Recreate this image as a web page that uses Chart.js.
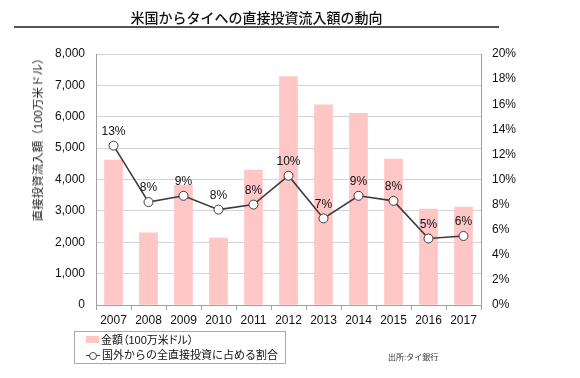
<!DOCTYPE html>
<html>
<head>
<meta charset="utf-8">
<script src="https://cdn.jsdelivr.net/npm/chart.js@4"></script>
<style>
  body { margin: 0; background: #fff; font-family: "Liberation Sans", "Noto Sans CJK JP", sans-serif; }
  #wrap { position: relative; width: 580px; height: 378px; }
  #title { position: absolute; left: 14px; width: 485px; top: 7px; text-align: center; font-size: 14px; font-weight: 500; color: #111; }
  #rule { position: absolute; left: 14px; width: 485px; top: 26px; height: 2px; background: #555; }
  #ytitle { position: absolute; left: 37px; top: 137px; width: 0; height: 0; }
  #ytitle span { position: absolute; transform: translate(-50%, -50%) rotate(-90deg); white-space: nowrap; font-size: 11.5px; color: #222; }
  #legend { position: absolute; left: 74px; top: 331px; width: 210px; height: 31px; border: 1px solid #a8a8a8; font-size: 11px; color: #111; }
  .row { position: absolute; left: 11px; height: 15px; line-height: 15px; white-space: nowrap; }
  .sw { display: inline-block; width: 13px; height: 7px; background: #ffc6c6; vertical-align: 1px; margin-right: 2px; }
  .ln { display: inline-block; position: relative; width: 14px; height: 15px; vertical-align: top; margin-right: 2px; }
  .ln i { position: absolute; left: 0; top: 7px; width: 14px; height: 1px; background: #444; }
  .ln b { position: absolute; left: 3px; top: 4px; width: 6px; height: 6px; border: 1px solid #444; border-radius: 50%; background: #fff; }
  #source { position: absolute; left: 388px; top: 351px; font-size: 8px; color: #333; }
  canvas { position: absolute; left: 0; top: 0; }
</style>
</head>
<body>
<div id="wrap">
  <canvas id="chart" width="580" height="378"></canvas>
  <div id="title">米国からタイへの直接投資流入額の動向</div>
  <div id="rule"></div>
  <div id="ytitle"><span>直接投資流入額（100万米ドル）</span></div>
  <div id="legend">
    <div class="row" style="top:1px; font-feature-settings: 'palt';"><span class="sw"></span>金額（100万米ドル）</div>
    <div class="row" style="top:16px"><span class="ln"><i></i><b></b></span>国外からの全直接投資に占める割合</div>
  </div>
  <div id="source">出所:タイ銀行</div>
</div>
<script>
// 年
const years = ["2007", "2008", "2009", "2010", "2011", "2012", "2013", "2014", "2015", "2016", "2017"];
// 金額（100万米ドル）
const amounts = [4620, 2300, 3820, 2130, 4300, 7280, 6380, 6110, 4650, 3060, 3120];
// 国外からの全直接投資に占める割合（%）
const shares = [12.7, 8.2, 8.7, 7.6, 8.0, 10.3, 6.9, 8.7, 8.3, 5.3, 5.5];
const shareLabels = ["13%", "8%", "9%", "8%", "8%", "10%", "7%", "9%", "8%", "5%", "6%"];

const FONT = "'Liberation Sans', 'Noto Sans CJK JP', sans-serif";

// 割合ラベルを描く
const pctLabels = {
  id: "pctLabels",
  afterDatasetsDraw(chart) {
    const ctx = chart.ctx;
    const meta = chart.getDatasetMeta(1);
    ctx.save();
    ctx.font = "12px " + FONT;
    ctx.fillStyle = "#111";
    ctx.textAlign = "center";
    ctx.textBaseline = "middle";
    meta.data.forEach((p, i) => {
      ctx.fillText(shareLabels[i], p.x, p.y - 14);
    });
    ctx.restore();
  },
};

new Chart(document.getElementById("chart"), {
  type: "bar",
  data: {
    labels: years,
    datasets: [
      {
        label: "金額（100万米ドル）",
        data: amounts,
        backgroundColor: "#ffc6c6",
        barThickness: 18,
        yAxisID: "y",
        order: 1,
      },
      {
        type: "line",
        label: "国外からの全直接投資に占める割合",
        data: shares,
        borderColor: "#3c3c3c",
        borderWidth: 1.6,
        pointRadius: 4.5,
        pointBackgroundColor: "#fff",
        pointBorderColor: "#3c3c3c",
        pointBorderWidth: 1,
        yAxisID: "y1",
        order: 0,
      },
    ],
  },
  options: {
    responsive: false,
    animation: false,
    layout: { padding: { top: 54, right: 39, bottom: 51, left: 0 } },
    plugins: { legend: { display: false }, tooltip: { enabled: false } },
    scales: {
      x: {
        offset: true,
        grid: { offset: true, drawOnChartArea: false, drawTicks: true, tickLength: 5, color: "#a0a0a0" },
        border: { color: "#a0a0a0" },
        ticks: { color: "#111", font: { size: 12, family: FONT }, padding: 3 },
        afterFit: (s) => { s.height = 22; },
      },
      y: {
        position: "left",
        min: 0,
        max: 8000,
        ticks: {
          stepSize: 1000,
          color: "#111",
          font: { size: 12, family: FONT },
          padding: 11,
          callback: (v) => v.toLocaleString("en-US"),
        },
        grid: { color: "#d4d4d4", drawTicks: false },
        border: { color: "#a0a0a0" },
        afterFit: (s) => { s.width = 96; },
      },
      y1: {
        position: "right",
        min: 0,
        max: 20,
        ticks: {
          stepSize: 2,
          color: "#111",
          font: { size: 12, family: FONT },
          padding: 11,
          callback: (v) => v + "%",
        },
        grid: { drawOnChartArea: false, drawTicks: false },
        border: { color: "#a0a0a0" },
        afterFit: (s) => { s.width = 60; },
      },
    },
  },
  plugins: [pctLabels],
});
</script>
</body>
</html>
